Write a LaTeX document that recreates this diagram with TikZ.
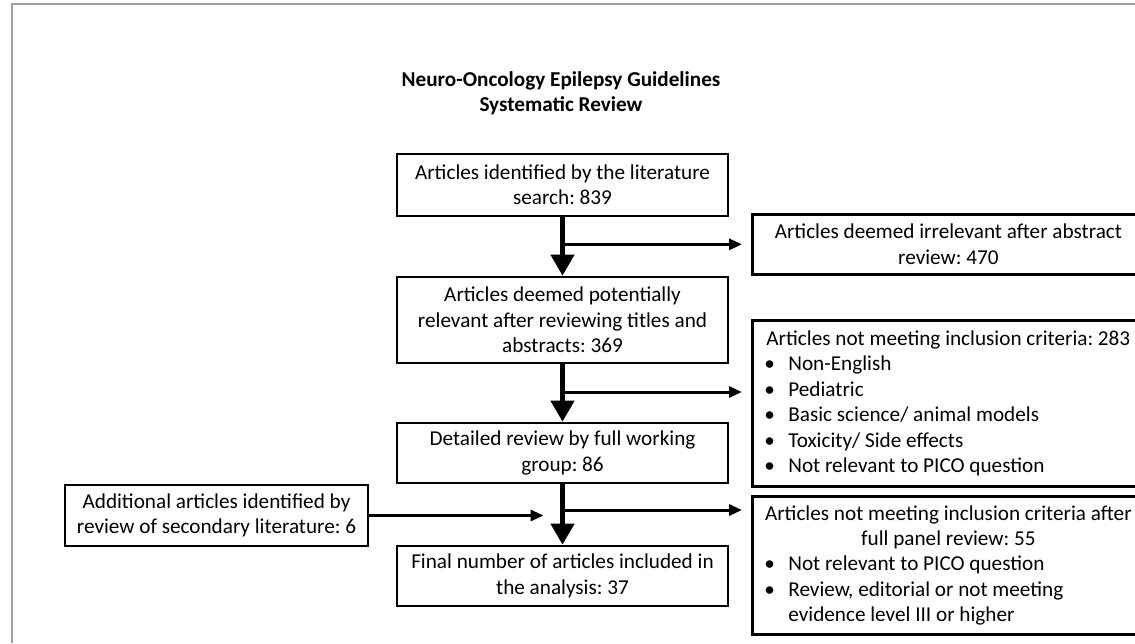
\documentclass[tikz,border=0pt]{standalone}
\usepackage{fontspec}
\setmainfont{Carlito}
\definecolor{framegray}{HTML}{A0A0A0}
\usetikzlibrary{arrows.meta}
\newcommand{\boxfont}{\fontsize{21.2}{25.4}\selectfont\frenchspacing}
\newcommand{\bul}{\makebox[24pt][l]{\textbullet}}
\newcommand{\headline}[1]{\makebox[\linewidth]{#1}}
\tikzset{box/.style={draw, line width=2.7pt, align=center, inner sep=0pt, font=\boxfont}}
\tikzset{sidebox/.style={box, anchor=north west, minimum width=392pt, text width=368pt, align=flush left}}
\tikzset{trunk/.style={line width=4.5pt, -{Triangle[width=23pt, length=21pt]}}}
\tikzset{branch/.style={line width=3pt, -{Triangle[width=11pt, length=13pt]}}}

\begin{document}
\begin{tikzpicture}[x=1pt, y=-1pt]
		\useasboundingbox (0,0) rectangle (1135,643);
		\clip (0,0) rectangle (1135,643);
		\draw[framegray, line width=2pt] (12,643) -- (12,4) -- (1135,4);
		\node[font=\boxfont\bfseries, align=center] (title) at (561,93) {Neuro-Oncology Epilepsy Guidelines\\Systematic Review};
		% main column
		\node[box, minimum width=331pt, minimum height=62pt] (search) at (562.5,185) {Articles identified by the literature\\search: 839};
		\node[box, minimum width=331pt, minimum height=86pt] (relevant) at (562.5,320) {Articles deemed potentially\\relevant after reviewing titles and\\abstracts: 369};
		\node[box, minimum width=331pt, minimum height=60pt] (detailed) at (562.5,453) {Detailed review by full working\\group: 86};
		\node[box, minimum width=331pt, minimum height=60pt] (final) at (562.5,576) {Final number of articles included in\\the analysis: 37};
		\node[box, minimum width=303pt, minimum height=61pt] (secondary) at (216.5,515.5) {Additional articles identified by\\review of secondary literature: 6};
		% excluded articles
		\node[sidebox, minimum height=60pt] (irrelevant) at (751,213) {\headline{Articles deemed irrelevant after abstract}\\\headline{review: 470}};
		\node[sidebox, minimum height=166pt] (excluded) at (751,319) {\headline{Articles not meeting inclusion criteria: 283}\\\bul Non-English\\\bul Pediatric\\\bul Basic science/ animal models\\\bul Toxicity/ Side effects\\\bul Not relevant to PICO question};
		\node[sidebox, minimum height=138pt] (postpanel) at (751,495) {\headline{Articles not meeting inclusion criteria after}\\\headline{full panel review: 55}\\\bul Not relevant to PICO question\\\bul Review, editorial or not meeting\\\hspace*{24pt}evidence level III or higher};
		\coordinate (split2) at (562.5,392);
		\coordinate (split3) at (562.5,510);
		\draw[trunk] (search) -- (relevant);
		\draw[trunk] (relevant) -- (detailed);
		\draw[trunk] (detailed) -- (final);
		\draw[branch, shorten >=9pt] (search.south |- irrelevant) -- (irrelevant);
		\draw[branch, shorten >=9pt] (split2) -- (split2 -| excluded.west);
		\draw[branch, shorten >=9pt] (split3) -- (split3 -| postpanel.west);
		\draw[branch, shorten >=19pt] (secondary) -- (secondary -| final);
	\end{tikzpicture}
\end{document}
